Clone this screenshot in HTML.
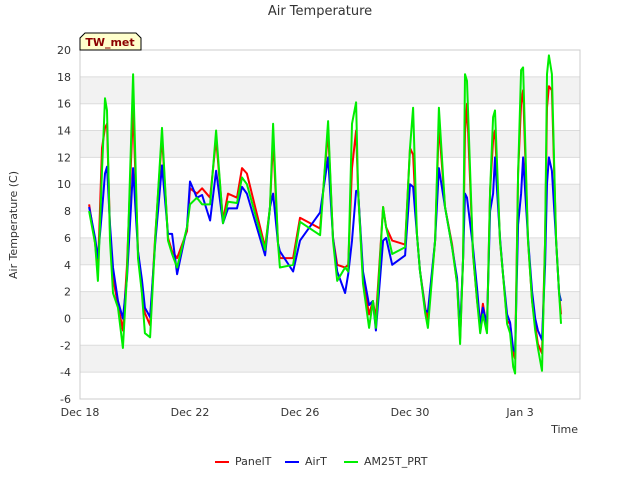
<!DOCTYPE html>
<html><head><meta charset="utf-8"><style>
body{margin:0;background:#fff;font-family:"Liberation Sans","DejaVu Sans",sans-serif;}
svg text{font-family:"DejaVu Sans","Liberation Sans",sans-serif;}
</style></head><body>
<svg id="chart" width="640" height="480" viewBox="0 0 640 480">
<rect width="640" height="480" fill="#fff"/>
<g id="bands"></g>
<g id="grid"></g>
<rect x="80" y="50" width="500" height="349" fill="none" stroke="#ccc"/>
<g id="yticks"></g>
<g id="xticks"></g>
<g id="series" clip-path="url(#clip)"></g>
<defs><clipPath id="clip"><rect x="80" y="50" width="500" height="349"/></clipPath></defs>
<text x="320" y="15" text-anchor="middle" font-size="13" fill="#333">Air Temperature</text>
<text x="17" y="225" text-anchor="middle" font-size="11" fill="#333" transform="rotate(-90 17 225)">Air Temperature (C)</text>
<text x="578" y="433" text-anchor="end" font-size="11" fill="#333">Time</text>
<g>
<path d="M80,50 L80,38 L85,33 L136,33 L141,38 L141,50 Z" fill="#ffffcc" stroke="#000" stroke-width="1"/>
<text x="110" y="46" text-anchor="middle" font-size="11" font-weight="bold" fill="#8b0000">TW_met</text>
</g>
<g id="legend"></g>
</svg>
<script>
const days=[0.33,0.55,0.65,0.8,0.91,0.98,1.09,1.2,1.38,1.56,1.71,1.93,2.11,2.25,2.36,2.55,2.73,2.98,3.2,3.35,3.53,3.89,4.0,4.25,4.44,4.73,4.95,5.2,5.38,5.71,5.89,6.07,6.73,6.91,7.02,7.2,7.27,7.75,8.0,8.73,9.02,9.2,9.35,9.64,9.75,9.89,10.04,10.11,10.29,10.51,10.65,10.76,11.02,11.13,11.35,11.82,12.0,12.11,12.25,12.36,12.55,12.65,12.91,13.05,13.27,13.53,13.71,13.82,13.93,14.0,14.07,14.29,14.44,14.55,14.65,14.8,14.91,15.02,15.09,15.27,15.38,15.53,15.64,15.75,15.82,15.93,16.04,16.11,16.29,16.44,16.55,16.65,16.8,16.91,16.98,17.05,17.16,17.31,17.42,17.49];
const panelT=[8.5,5.6,3.5,12.7,14.2,14.5,6.5,3,1,-0.9,4,15.7,5,2,0.4,-0.5,6,13.6,6,5,4.5,6.5,9.7,9.3,9.7,9.0,13.4,7.3,9.3,9.0,11.2,10.8,5.3,8.3,13.4,5.6,4.5,4.5,7.5,6.7,14.0,6,4.0,3.8,4,11.2,14,9.5,3,0.3,1.3,0,8.3,6.8,5.8,5.5,12.7,12.2,6.3,3.6,0.8,-0.1,5.8,14.5,8.3,5.5,2.6,-1.5,4.5,13.8,16,4.8,1.3,-0.5,1.1,-0.8,9.5,13.3,14,5.8,3.3,-0.2,-0.4,-2.6,-3,10.8,16,17,5.8,1.3,-0.5,-1.9,-2.6,5.8,15.7,17.3,17,5.8,1.9,0.3];
const airT=[8.3,6,4.5,8,10.8,11.3,7,3.8,1.3,0,3,11.2,5,2.9,0.8,0.1,5.5,11.4,6.3,6.3,3.3,6.8,10.2,9,9.2,7.3,11.0,7.1,8.2,8.2,9.8,9.3,4.7,8.3,9.3,5.6,5.0,3.5,5.8,7.9,12.0,6,3.5,1.9,3.3,5.8,9.5,9.5,3.5,1,1.3,-0.9,5.8,6.0,4.0,4.7,10,9.8,6.3,3.6,0.6,0.5,5.8,11.2,8.3,5.3,3,-1,4.5,9.3,9,5.3,2.2,-0.5,0.8,-0.4,8,9.3,12,6,3.3,0.3,-0.3,-2.3,-2.5,7,9.3,12,6,2,0,-0.9,-1.6,4,10,12,11,5.8,1.9,1.3];
const am25t=[8.0,5.6,2.8,11,16.4,15.5,5.8,1.9,0.8,-2.2,3.3,18.2,4.5,1.9,-1.1,-1.4,5.8,14.2,5.8,4.8,3.8,6.8,8.5,9.0,8.5,8.5,14.0,7.1,8.7,8.6,10.5,10,5.1,8.3,14.5,5.6,3.8,4.0,7.2,6.2,14.7,5.8,2.8,3.8,3.5,14.5,16.1,9.5,2.6,-0.7,1.3,-0.7,8.3,6.8,4.8,5.3,12.7,15.7,6.3,3.6,0.4,-0.7,5.8,15.7,8.3,5.3,2.6,-1.9,4.5,18.2,17.7,4.8,1.3,-1.1,0.3,-1.1,9.5,15,15.5,5.8,3.3,-0.4,-1.1,-3.6,-4.1,10.8,18.5,18.7,5.8,1.3,-0.9,-2.2,-3.9,5.8,18.2,19.6,18.2,5.8,1.9,-0.4];
const yTicks=[-6,-4,-2,0,2,4,6,8,10,12,14,16,18,20];
const xTickDays=[0,4,8,12,16];
const xTickLabels=["Dec 18","Dec 22","Dec 26","Dec 30","Jan 3"];
const seriesNames=["PanelT","AirT","AM25T_PRT"];
const seriesColors=["#ff0000","#0000ff","#00ee00"];

const NS="http://www.w3.org/2000/svg";
const X0=80,X1=580,Y0=399,Y1=50,DMAX=18.18,VMIN=-6,VMAX=20;
function xs(d){return X0+(d/DMAX)*(X1-X0);}
function ys(v){return Y0-(v-VMIN)/(VMAX-VMIN)*(Y0-Y1);}
function mk(tag,attrs,parent){const e=document.createElementNS(NS,tag);for(const k in attrs)e.setAttribute(k,attrs[k]);parent.appendChild(e);return e;}
const bands=document.getElementById('bands'),grid=document.getElementById('grid'),yt=document.getElementById('yticks'),xt=document.getElementById('xticks');
for(let i=0;i<yTicks.length-1;i++){
  if(i%2===1){const r=mk('rect',{x:X0,y:ys(yTicks[i+1]),width:X1-X0,height:ys(yTicks[i])-ys(yTicks[i+1]),fill:'#f2f2f2'},bands);
  
  }
}
yTicks.forEach(v=>{
  const l=mk('line',{x1:X0,x2:X1,y1:ys(v),y2:ys(v),stroke:'#dcdcdc'},grid);
  
  
  const t=mk('text',{x:X0-9,y:ys(v)+4,'text-anchor':'end','font-size':'11',fill:'#333'},yt);
  t.textContent=v;
  
  
});
xTickDays.forEach((d,i)=>{
  const t=mk('text',{x:xs(d),y:Y0+17,'text-anchor':'middle','font-size':'11',fill:'#333'},xt);
  t.textContent=xTickLabels[i];
  
  
});
const ser=document.getElementById('series');
[panelT,airT,am25t].forEach((vals,si)=>{
  const pts=days.map((d,i)=>xs(d).toFixed(1)+','+ys(vals[i]).toFixed(1)).join(' ');
  const p=mk('polyline',{points:pts,fill:'none',stroke:seriesColors[si],'stroke-width':'2','stroke-linejoin':'round'},ser);
  
  
});
const lg=document.getElementById('legend');
const lx=[215,285,344];
seriesNames.forEach((n,i)=>{
  const g=mk('g',{},lg);
  
  
  mk('line',{x1:lx[i],x2:lx[i]+14,y1:462,y2:462,stroke:seriesColors[i],'stroke-width':'2'},g);
  const t=mk('text',{x:lx[i]+20,y:465,'font-size':'11',fill:'#333'},g);
  t.textContent=n;
});
</script>
</body></html>
